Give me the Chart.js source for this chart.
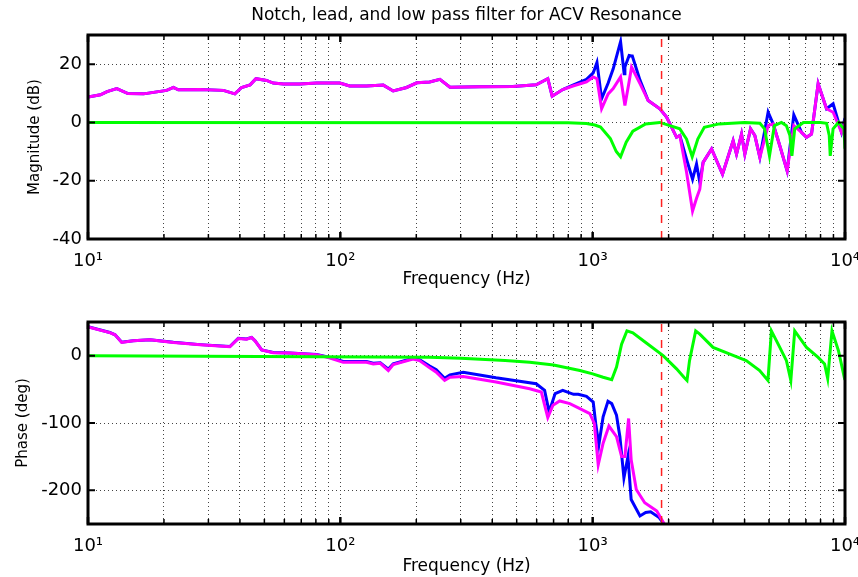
<!DOCTYPE html>
<html>
<head>
<meta charset="utf-8">
<script src="https://cdn.jsdelivr.net/npm/chart.js@4.4.1/dist/chart.umd.min.js"></script>
<style>
  html, body { margin: 0; padding: 0; background: #fff; }
  #wrap { position: relative; width: 858px; height: 577px; }
  #magBox { position: absolute; left: 0; top: 0; width: 858px; height: 290px; }
  #phaseBox { position: absolute; left: 0; top: 290px; width: 858px; height: 287px; }
</style>
</head>
<body>
<div id="wrap">
  <div id="magBox"><canvas id="magChart"></canvas></div>
  <div id="phaseBox"><canvas id="phaseChart"></canvas></div>
</div>
<script>
// Magnitude, measured plant (magenta) and compensated (blue) share frequencies
const magFreq = [10, 11.2, 11.9, 13.0, 14.4, 16.6, 20.5, 21.8, 22.8, 27.8, 34.4, 38.2, 40.6, 43.9, 46.3,
  51.0, 54.2, 59.5, 69.1, 80.6, 99.5, 108.9, 127, 148, 162, 183, 201, 226, 248, 272, 357, 483, 597,
  664, 691, 761, 835, 945, 1005, 1040, 1085, 1152, 1206, 1290, 1333, 1342, 1395, 1426, 1436, 1540, 1659,
  1846, 1963, 2150, 2215, 2355, 2488, 2580, 2658, 2740, 2960, 3270, 3603, 3716, 3890, 4009, 4224,
  4393, 4598, 4958, 5190, 5516, 5897, 6268, 6725, 7039, 7367, 7826, 8449, 8972, 9685, 10000];
const magMagenta = [8.7, 9.5, 10.6, 11.6, 9.9, 9.8, 11.0, 12.0, 11.2, 11.3, 11.0, 9.8, 12.0, 12.9, 15.0,
  14.4, 13.5, 13.2, 13.2, 13.5, 13.5, 12.5, 12.5, 12.8, 10.8, 12.0, 13.6, 13.9, 14.8, 12.1, 12.2, 12.3, 12.9,
  15.0, 9.0, 11.3, 12.5, 13.9, 15.6, 15.0, 4.7, 9.8, 11.6, 15.6, 7.5, 5.8, 14.0, 19.0, 18.5, 13.3, 7.5,
  4.7, 1.8, -5.1, -4.5, -17.0, -30.4, -26.0, -22.9, -13.7, -9.1, -17.8, -6.3, -10.9, -4.0, -10.9, -2.2,
  -4.5, -12.0, -1.1, -0.5, -8.0, -16.6, -1.1, -3.4, -5.1, -4.0, 13.3, 4.7, 3.5, -3.4, 0.5];
const magBlue = [8.7, 9.5, 10.6, 11.6, 9.9, 9.8, 11.0, 12.0, 11.2, 11.3, 11.0, 9.8, 12.0, 12.9, 15.0,
  14.4, 13.5, 13.2, 13.2, 13.5, 13.5, 12.5, 12.5, 12.8, 10.8, 12.0, 13.6, 13.9, 14.8, 12.1, 12.2, 12.3, 12.9,
  15.0, 9.0, 11.3, 12.8, 14.8, 17.0, 20.6, 8.1, 13.5, 18.4, 27.7, 16.7, 19.0, 23.0, 22.8, 22.8, 14.5, 7.5,
  4.7, 1.8, -5.1, -4.5, -12.6, -19.5, -14.3, -20.6, -13.7, -9.1, -17.8, -6.3, -10.9, -4.0, -10.9, -2.2,
  -4.5, -12.0, 3.5, -0.5, -8.0, -16.6, 2.6, -3.4, -5.1, -4.0, 13.3, 4.7, 6.4, -3.4, 1.5];

// Filter magnitude (green)
const filtMagFreq = [10, 800, 945, 1020, 1075, 1175, 1240, 1290, 1358, 1443, 1622, 1846, 2215, 2355, 2480,
  2610, 2770, 3170, 4000, 4600, 4800, 5020, 5250, 5600, 5860, 6050, 6160, 6320, 6840, 8000, 8450, 8660,
  8740, 8970, 9420, 9900, 10000];
const filtMagDb = [0, -0.1, -0.4, -0.9, -1.6, -5.5, -10.0, -11.8, -6.8, -3.0, -0.5, 0, -2.2, -5.7, -11.8,
  -5.7, -1.7, -0.5, 0, -0.3, -2.2, -11.5, -1.1, 0, -1.1, -4.5, -11.5, -2.2, 0, 0, -0.3, -4.5,
  -11.5, -2.2, 0, -2.2, -9.0];

// Phase, measured plant (magenta)
const phMagentaFreq = [10, 12.2, 12.8, 13.6, 15.1, 17.6, 21.8, 27.8, 36.5, 39.4, 42.5, 44.5, 45.9, 48.8, 54.2,
  63, 80.6, 91, 102.6, 127, 135, 144, 155, 162, 194, 206, 226, 240, 259, 272, 307, 414, 563, 626, 664,
  696, 740, 812, 890, 975, 1015, 1052, 1100, 1160, 1243, 1302, 1342, 1388, 1421, 1489, 1608, 1796, 1990];
const phMagentaDeg = [42.7, 34.3, 30.9, 19.6, 22.1, 23.6, 19.6, 16.2, 13.3, 25.5, 24.5, 27, 22, 8.4, 4.4,
  3.9, 1.5, -3.4, -9.9, -9.9, -12.3, -11.3, -22, -13.3, -4.9, -7.4, -18.1, -24.5, -36.8, -32, -30.9, -39.2, -49.1, -54, -91.8,
  -73.6, -67.3, -71.2, -78.6, -86, -100.6, -162, -130, -104.6, -120.3, -149.8, -149.8, -93.3, -154.6, -198.8, -218.4, -230.8, -260];

// Phase, compensated (blue)
const phBlueFreq = [10, 12.2, 12.8, 13.6, 15.1, 17.6, 21.8, 27.8, 36.5, 39.4, 42.5, 44.5, 45.9, 48.8, 54.2,
  63, 80.6, 91, 102.6, 127, 135, 144, 155, 162, 194, 206, 226, 240, 259, 272, 307, 414, 597, 645, 672,
  710, 761, 840, 877, 945, 1005, 1028, 1058, 1100, 1150, 1190, 1243, 1282, 1330, 1380, 1421, 1540, 1622,
  1697, 1834, 1990];
const phBlueDeg = [43, 34.5, 31, 20, 22.3, 23.8, 19.8, 16.4, 13.5, 25.7, 24.7, 27.2, 22.2, 8.6, 4.6,
  4.1, 1.7, -2.5, -8.5, -8.8, -11.3, -10.5, -20, -12.3, -3.9, -6, -15.5, -21, -33.5, -28.5, -24.5, -32.9, -41.7, -51.5, -83.5,
  -56.4, -51.5, -57.4, -57.4, -60.4, -68.8, -100.6, -132.5, -90.9, -67.8, -71.2, -88.4, -120.3, -181.6, -149.8, -213.6, -238, -233,
  -232, -240.5, -258];

// Filter phase (green)
const filtPhFreq = [10, 226, 300, 450, 563, 700, 890, 1000, 1100, 1190, 1243, 1302, 1367, 1443, 1622, 1902,
  2150, 2300, 2365, 2420, 2560, 2658, 3000, 3480, 4060, 4590, 4950, 5110, 5516, 5860, 6100, 6320, 7039,
  7826, 8300, 8540, 8880, 9420, 9960, 10000];
const filtPhDeg = [0, -2.5, -4, -7, -9.9, -14, -22, -27, -32, -35.8, -17, 17, 36.8, 34, 19.6, 0,
  -19.6, -32, -36.8, -7.4, 36.8, 32, 12.3, 2.5, -7.4, -22, -36.8, 36.8, 12.3, -7.4, -36.8, 36.8, 12.3,
  -2.5, -12.3, -34, 36.8, 7.4, -34, -36];

// Dashed marker frequency
const markerFreq = 1875;
const magTicks = [-40, -20, 0, 20];
const phaseTicks = [-200, -100, 0];
const decadeLabels = { 10: '10¹', 100: '10²', 1000: '10³', 10000: '10⁴' };

const FONT = 'DejaVu Sans';

function toPoints(xs, ys) {
  return xs.map((x, i) => ({ x: x, y: ys[i] }));
}

function series(xs, ys, color) {
  return {
    data: toPoints(xs, ys),
    borderColor: color,
    borderWidth: 3,
    pointRadius: 0,
    tension: 0,
    fill: false
  };
}

function markerSet(lo, hi) {
  return {
    data: [{ x: markerFreq, y: lo }, { x: markerFreq, y: hi }],
    borderColor: '#ff2020',
    borderWidth: 1.5,
    borderDash: [8, 8],
    pointRadius: 0
  };
}

const dotted = '#444';

function freqAxis(axisHeight) {
  return {
    type: 'logarithmic',
    min: 10,
    max: 10000,
    afterBuildTicks: function(scale) {
      const ticks = [];
      for (let d = 10; d < 10000; d *= 10) {
        for (let m = 1; m < 10; m++) ticks.push({ value: m * d });
      }
      ticks.push({ value: 10000 });
      scale.ticks = ticks;
    },
    afterFit: function(scale) {
      scale.height = axisHeight;
      scale.paddingLeft = 0;
      scale.paddingRight = 0;
    },
    ticks: {
      autoSkip: false,
      maxRotation: 0,
      padding: 12,
      color: '#000',
      font: { family: FONT, size: 18 },
      callback: function(value) { return decadeLabels[value] || ''; }
    },
    grid: {
      drawTicks: false,
      lineWidth: 1,
      color: function(ctx) {
        const v = ctx.tick && ctx.tick.value;
        return (v === 10 || v === 10000) ? 'rgba(0,0,0,0)' : dotted;
      }
    },
    border: { display: false, dash: [1, 3] },
    title: {
      display: true,
      text: 'Frequency (Hz)',
      color: '#000',
      font: { family: FONT, size: 17 },
      padding: 0
    }
  };
}

function valueAxis(min, max, tickList, width, label) {
  return {
    min: min,
    max: max,
    afterBuildTicks: function(scale) {
      scale.ticks = tickList.map(v => ({ value: v }));
    },
    afterFit: function(scale) {
      scale.width = width;
      scale.paddingTop = 0;
      scale.paddingBottom = 0;
    },
    ticks: {
      padding: 6,
      color: '#000',
      font: { family: FONT, size: 18 }
    },
    grid: {
      drawTicks: false,
      lineWidth: 1,
      color: function(ctx) {
        const v = ctx.tick && ctx.tick.value;
        return (v === min || v === max) ? 'rgba(0,0,0,0)' : dotted;
      }
    },
    border: { display: false, dash: [1, 3] },
    title: {
      display: true,
      text: label,
      color: '#000',
      font: { family: FONT, size: 15 },
      padding: 0
    }
  };
}

// Box round the plot plus short inward tick marks, MATLAB style
const boxPlugin = {
  id: 'box',
  afterDatasetsDraw(chart) {
    const { ctx, chartArea: a, scales } = chart;
    ctx.save();
    ctx.strokeStyle = '#000';
    scales.x.ticks.forEach(t => {
      const px = scales.x.getPixelForValue(t.value);
      const major = !!decadeLabels[t.value];
      ctx.lineWidth = major ? 2.5 : 1.5;
      const len = major ? 7 : 5;
      ctx.beginPath();
      ctx.moveTo(px, a.top); ctx.lineTo(px, a.top + len);
      ctx.moveTo(px, a.bottom); ctx.lineTo(px, a.bottom - len);
      ctx.stroke();
    });
    ctx.lineWidth = 2;
    scales.y.ticks.forEach(t => {
      const py = scales.y.getPixelForValue(t.value);
      ctx.beginPath();
      ctx.moveTo(a.left, py); ctx.lineTo(a.left + 7, py);
      ctx.moveTo(a.right, py); ctx.lineTo(a.right - 7, py);
      ctx.stroke();
    });
    ctx.lineWidth = 3;
    ctx.strokeRect(a.left, a.top, a.right - a.left, a.bottom - a.top);
    ctx.restore();
  }
};

new Chart(document.getElementById('magChart').getContext('2d'), {
  type: 'line',
  data: {
    datasets: [
      markerSet(-40, 30),
      series(filtMagFreq, filtMagDb, '#00ff00'),
      series(magFreq, magMagenta, '#ff00ff'),
      series(magFreq, magBlue, '#0000ff')
    ]
  },
  options: {
    responsive: true,
    maintainAspectRatio: false,
    animation: false,
    layout: { padding: { left: 26, right: 13, top: 0, bottom: 0 } },
    plugins: {
      legend: { display: false },
      tooltip: { enabled: false },
      title: {
        display: true,
        fullSize: false,
        text: 'Notch, lead, and low pass filter for ACV Resonance',
        color: '#000',
        font: { family: FONT, size: 17, weight: 'normal', lineHeight: 1.2 },
        padding: { top: 5, bottom: 9.6 }
      }
    },
    scales: {
      x: freqAxis(51),
      y: valueAxis(-40, 30, magTicks, 62, 'Magnitude (dB)')
    }
  },
  plugins: [boxPlugin]
});

new Chart(document.getElementById('phaseChart').getContext('2d'), {
  type: 'line',
  data: {
    datasets: [
      markerSet(-250, 50),
      series(filtPhFreq, filtPhDeg, '#00ff00'),
      series(phMagentaFreq, phMagentaDeg, '#ff00ff'),
      series(phBlueFreq, phBlueDeg, '#0000ff')
    ]
  },
  options: {
    responsive: true,
    maintainAspectRatio: false,
    animation: false,
    layout: { padding: { left: 14, right: 13, top: 32, bottom: 0 } },
    plugins: {
      legend: { display: false },
      tooltip: { enabled: false }
    },
    scales: {
      x: freqAxis(53),
      y: valueAxis(-250, 50, phaseTicks, 74, 'Phase (deg)')
    }
  },
  plugins: [boxPlugin]
});
</script>
</body>
</html>
